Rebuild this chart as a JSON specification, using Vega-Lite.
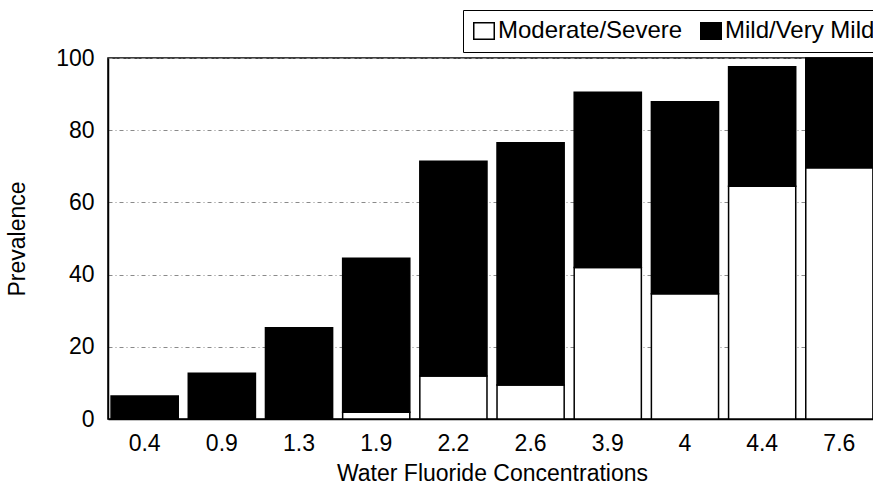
{
  "$schema": "https://vega.github.io/schema/vega-lite/v6.json",
  "autosize": "none",
  "padding": {"left": 108, "top": 58, "right": 0, "bottom": 70},
  "width": 768,
  "height": 361,
  "background": "white",
  "data": {
    "values": [
      {"conc": "0.4", "severity": "Moderate/Severe", "rank": 1, "prevalence": 0},
      {"conc": "0.4", "severity": "Mild/Very Mild", "rank": 2, "prevalence": 6.4},
      {"conc": "0.9", "severity": "Moderate/Severe", "rank": 1, "prevalence": 0},
      {"conc": "0.9", "severity": "Mild/Very Mild", "rank": 2, "prevalence": 12.7},
      {"conc": "1.3", "severity": "Moderate/Severe", "rank": 1, "prevalence": 0},
      {"conc": "1.3", "severity": "Mild/Very Mild", "rank": 2, "prevalence": 25.3},
      {"conc": "1.9", "severity": "Moderate/Severe", "rank": 1, "prevalence": 1.9},
      {"conc": "1.9", "severity": "Mild/Very Mild", "rank": 2, "prevalence": 42.6},
      {"conc": "2.2", "severity": "Moderate/Severe", "rank": 1, "prevalence": 11.9},
      {"conc": "2.2", "severity": "Mild/Very Mild", "rank": 2, "prevalence": 59.5},
      {"conc": "2.6", "severity": "Moderate/Severe", "rank": 1, "prevalence": 9.4},
      {"conc": "2.6", "severity": "Mild/Very Mild", "rank": 2, "prevalence": 67.1},
      {"conc": "3.9", "severity": "Moderate/Severe", "rank": 1, "prevalence": 42.0},
      {"conc": "3.9", "severity": "Mild/Very Mild", "rank": 2, "prevalence": 48.5},
      {"conc": "4", "severity": "Moderate/Severe", "rank": 1, "prevalence": 34.7},
      {"conc": "4", "severity": "Mild/Very Mild", "rank": 2, "prevalence": 53.2},
      {"conc": "4.4", "severity": "Moderate/Severe", "rank": 1, "prevalence": 64.5},
      {"conc": "4.4", "severity": "Mild/Very Mild", "rank": 2, "prevalence": 33.1},
      {"conc": "7.6", "severity": "Moderate/Severe", "rank": 1, "prevalence": 69.6},
      {"conc": "7.6", "severity": "Mild/Very Mild", "rank": 2, "prevalence": 30.4}
    ]
  },
  "mark": {"type": "bar", "stroke": "black", "strokeWidth": 1.5},
  "encoding": {
    "x": {
      "field": "conc",
      "type": "ordinal",
      "sort": null,
      "scale": {"paddingInner": 0.13, "paddingOuter": 0.04},
      "axis": {
        "title": "Water Fluoride Concentrations",
        "labelAngle": 0,
        "ticks": false,
        "labelPadding": 13,
        "titlePadding": 7,
        "domain": true
      }
    },
    "y": {
      "field": "prevalence",
      "type": "quantitative",
      "stack": "zero",
      "scale": {"domain": [0, 100], "nice": false},
      "axis": {
        "title": "Prevalence",
        "values": [0, 20, 40, 60, 80, 100],
        "ticks": false,
        "labelPadding": 14,
        "titlePadding": 26,
        "grid": true
      }
    },
    "color": {
      "field": "severity",
      "type": "nominal",
      "scale": {"domain": ["Moderate/Severe", "Mild/Very Mild"], "range": ["white", "black"]},
      "legend": {
        "title": null,
        "orient": "none",
        "direction": "horizontal",
        "legendX": 355,
        "legendY": -48,
        "fillColor": "white",
        "strokeColor": "black",
        "padding": 9,
        "symbolType": "M-1,-0.8H1V0.8H-1Z",
        "symbolSize": 420,
        "symbolStrokeColor": "black",
        "symbolStrokeWidth": 1.5,
        "symbolOpacity": 1,
        "labelOffset": 2,
        "columnPadding": 14,
        "labelFontSize": 24,
        "labelFont": "Liberation Sans",
        "labelColor": "black",
        "labelLimit": 300
      }
    },
    "order": {"field": "rank", "type": "quantitative"}
  },
  "config": {
    "view": {"stroke": "black", "strokeWidth": 1.5},
    "axis": {
      "labelFont": "Liberation Sans",
      "titleFont": "Liberation Sans",
      "labelFontSize": 23,
      "titleFontSize": 23,
      "titleFontWeight": "normal",
      "labelColor": "black",
      "titleColor": "black",
      "domainColor": "black",
      "domainWidth": 1.5,
      "gridColor": "#8a8a8a",
      "gridDash": [4, 3, 1, 3],
      "gridWidth": 1
    }
  }
}
